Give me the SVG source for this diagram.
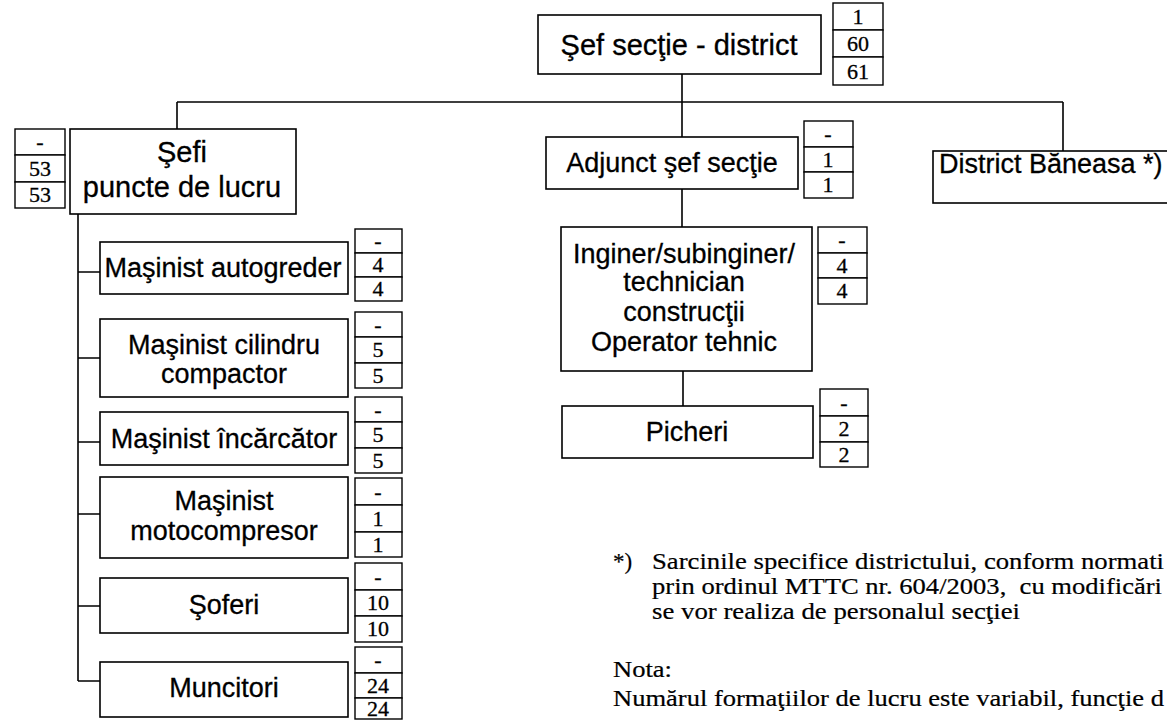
<svg xmlns="http://www.w3.org/2000/svg" width="1167" height="720" viewBox="0 0 1167 720">
<style>
.box{fill:#fff;stroke:#000;stroke-width:1.6}
.cnt{fill:#fff;stroke:#000;stroke-width:1.4}
.lbl{font-family:"Liberation Sans",Arial,sans-serif;font-size:27px;fill:#000;stroke:#000;stroke-width:0.3;text-anchor:middle}
.big{font-size:29px}
.num{font-family:"Liberation Serif","Times New Roman",serif;font-size:22px;fill:#000;stroke:#000;stroke-width:0.3;text-anchor:middle}
.note{font-family:"Liberation Serif","Times New Roman",serif;font-size:23px;fill:#000;stroke:#000;stroke-width:0.2}
.ln{stroke:#000;stroke-width:1.6;fill:none}
</style>
<rect width="1167" height="720" fill="#fff"/>
<g id="connectors">
<path class="ln" d="M682 74V102M177 102H1063M177 102V129M1063 102V151M682 102V137M682 189V227M683 371V406"/>
<path class="ln" d="M78 214V681M78 272H100M78 358H100M78 442H100M78 514H100M78 606H100M78 681H100"/>
</g>
<g id="sef-sectie">
<rect class="box" x="538" y="15" width="283" height="59"/>
<text class="lbl big" x="679" y="55">Şef secţie - district</text>
<rect class="cnt" x="833" y="3" width="50" height="27"/><rect class="cnt" x="833" y="30" width="50" height="27"/><rect class="cnt" x="833" y="57" width="50" height="28"/>
<text class="num" x="858" y="24">1</text><text class="num" x="858" y="51">60</text><text class="num" x="858" y="79">61</text>
</g>
<g id="sefi-puncte">
<rect class="box" x="70" y="129" width="226" height="85"/>
<text class="lbl big" x="182" y="162">Şefi</text>
<text class="lbl big" x="182" y="197">puncte de lucru</text>
<rect class="cnt" x="15" y="129" width="50" height="26"/><rect class="cnt" x="15" y="155" width="50" height="27"/><rect class="cnt" x="15" y="182" width="50" height="26"/>
<text class="num" x="40" y="149">-</text><text class="num" x="40" y="176">53</text><text class="num" x="40" y="202">53</text>
</g>
<g id="adjunct">
<rect class="box" x="546" y="137" width="252" height="52"/>
<text class="lbl" x="672" y="172">Adjunct şef secţie</text>
<rect class="cnt" x="804" y="121" width="49" height="26"/><rect class="cnt" x="804" y="147" width="49" height="25"/><rect class="cnt" x="804" y="172" width="49" height="26"/>
<text class="num" x="828" y="141">-</text><text class="num" x="828" y="167">1</text><text class="num" x="828" y="192">1</text>
</g>
<g id="district">
<rect class="box" x="933" y="151" width="260" height="52"/>
<text class="lbl" x="939" y="173" style="text-anchor:start">District Băneasa *)</text>
</g>
<g id="inginer">
<rect class="box" x="561" y="227" width="251" height="144"/>
<text class="lbl" x="684" y="263">Inginer/subinginer/</text>
<text class="lbl" x="684" y="291">technician</text>
<text class="lbl" x="684" y="321">construcţii</text>
<text class="lbl" x="684" y="351">Operator tehnic</text>
<rect class="cnt" x="818" y="227" width="49" height="26"/><rect class="cnt" x="818" y="253" width="49" height="25"/><rect class="cnt" x="818" y="278" width="49" height="26"/>
<text class="num" x="842" y="247">-</text><text class="num" x="842" y="273">4</text><text class="num" x="842" y="298">4</text>
</g>
<g id="picheri">
<rect class="box" x="562" y="406" width="251" height="52"/>
<text class="lbl" x="687" y="441">Picheri</text>
<rect class="cnt" x="820" y="389" width="48" height="27"/><rect class="cnt" x="820" y="416" width="48" height="26"/><rect class="cnt" x="820" y="442" width="48" height="25"/>
<text class="num" x="844" y="410">-</text><text class="num" x="844" y="436">2</text><text class="num" x="844" y="462">2</text>
</g>
<g id="autogreder">
<rect class="box" x="100" y="242" width="248" height="52"/>
<text class="lbl" x="223" y="277">Maşinist autogreder</text>
<rect class="cnt" x="355" y="229" width="47" height="24"/><rect class="cnt" x="355" y="253" width="47" height="24"/><rect class="cnt" x="355" y="277" width="47" height="24"/>
<text class="num" x="378" y="248">-</text><text class="num" x="378" y="272">4</text><text class="num" x="378" y="296">4</text>
</g>
<g id="cilindru">
<rect class="box" x="100" y="319" width="248" height="78"/>
<text class="lbl" x="224" y="354">Maşinist cilindru</text>
<text class="lbl" x="224" y="383">compactor</text>
<rect class="cnt" x="355" y="312" width="47" height="25"/><rect class="cnt" x="355" y="337" width="47" height="26"/><rect class="cnt" x="355" y="363" width="47" height="25"/>
<text class="num" x="378" y="332">-</text><text class="num" x="378" y="357">5</text><text class="num" x="378" y="383">5</text>
</g>
<g id="incarcator">
<rect class="box" x="100" y="412" width="248" height="53"/>
<text class="lbl" x="224" y="448">Maşinist încărcător</text>
<rect class="cnt" x="355" y="397" width="47" height="25"/><rect class="cnt" x="355" y="422" width="47" height="26"/><rect class="cnt" x="355" y="448" width="47" height="25"/>
<text class="num" x="378" y="417">-</text><text class="num" x="378" y="442">5</text><text class="num" x="378" y="468">5</text>
</g>
<g id="motocompresor">
<rect class="box" x="100" y="477" width="248" height="81"/>
<text class="lbl" x="224" y="510">Maşinist</text>
<text class="lbl" x="224" y="540">motocompresor</text>
<rect class="cnt" x="355" y="478" width="47" height="27"/><rect class="cnt" x="355" y="505" width="47" height="27"/><rect class="cnt" x="355" y="532" width="47" height="25"/>
<text class="num" x="378" y="499">-</text><text class="num" x="378" y="526">1</text><text class="num" x="378" y="552">1</text>
</g>
<g id="soferi">
<rect class="box" x="100" y="578" width="248" height="55"/>
<text class="lbl" x="224" y="614">Şoferi</text>
<rect class="cnt" x="355" y="563" width="47" height="27"/><rect class="cnt" x="355" y="590" width="47" height="26"/><rect class="cnt" x="355" y="616" width="47" height="26"/>
<text class="num" x="378" y="584">-</text><text class="num" x="378" y="610">10</text><text class="num" x="378" y="636">10</text>
</g>
<g id="muncitori">
<rect class="box" x="100" y="662" width="248" height="55"/>
<text class="lbl" x="224" y="697">Muncitori</text>
<rect class="cnt" x="355" y="647" width="47" height="26"/><rect class="cnt" x="355" y="673" width="47" height="25"/><rect class="cnt" x="355" y="698" width="47" height="21"/>
<text class="num" x="378" y="667">-</text><text class="num" x="378" y="693">24</text><text class="num" x="378" y="716">24</text>
</g>
<g id="notes">
<text class="note" x="613" y="569">*)</text>
<text class="note" x="652" y="569" textLength="512" lengthAdjust="spacingAndGlyphs">Sarcinile specifice districtului, conform normati</text>
<text class="note" x="652" y="594" xml:space="preserve" textLength="510" lengthAdjust="spacingAndGlyphs">prin ordinul MTTC nr. 604/2003,  cu modificări</text>
<text class="note" x="652" y="619" textLength="368" lengthAdjust="spacingAndGlyphs">se vor realiza de personalul secţiei</text>
<text class="note" x="613" y="677" textLength="59" lengthAdjust="spacingAndGlyphs">Nota:</text>
<text class="note" x="613" y="706" textLength="551" lengthAdjust="spacingAndGlyphs">Numărul formaţiilor de lucru este variabil, funcţie d</text>
</g>
</svg>
